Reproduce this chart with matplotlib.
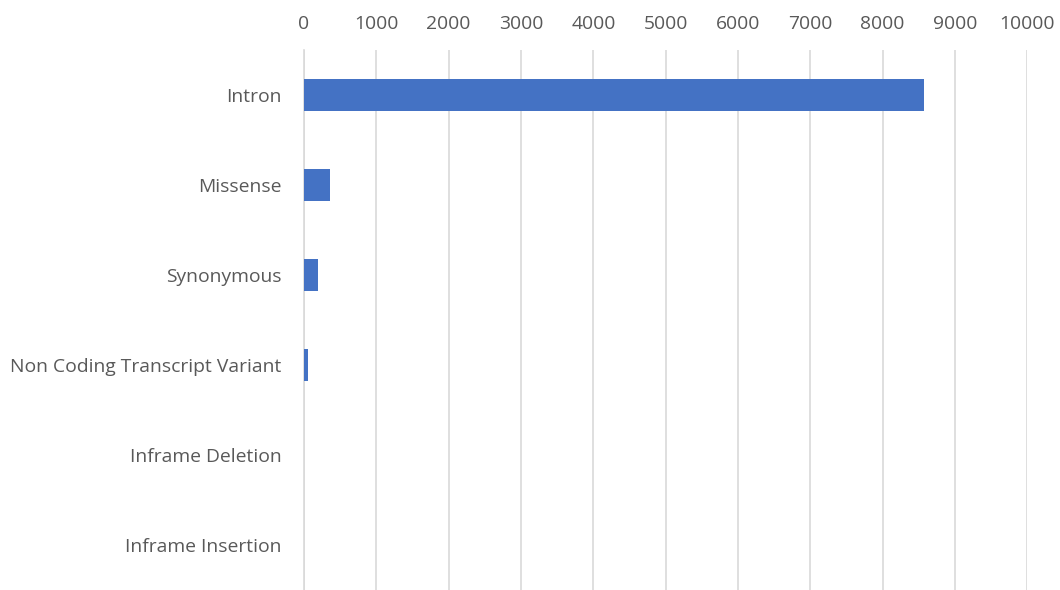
import matplotlib
matplotlib.use("Agg")
import matplotlib.pyplot as plt

categories = ["Intron", "Missense", "Synonymous", "Non Coding Transcript Variant",
              "Inframe Deletion", "Inframe Insertion"]
counts = [8565, 355, 190, 55, 2, 1]
xticks = list(range(0, 10001, 1000))

plt.rcParams['font.family'] = ['Open Sans', 'DejaVu Sans']

fig = plt.figure(figsize=(10.6, 5.9), dpi=100)
ax = fig.add_axes([304 / 1060, 0, (1027.3 - 304) / 1060, 1 - 50 / 590])

ypos = list(range(len(categories)))
ax.barh(ypos, counts, height=0.36, color="#4472C4", zorder=3)
ax.set_ylim(len(categories) - 0.5, -0.5)
ax.set_xlim(0, 10000)
ax.set_xticks(xticks)
ax.set_yticks(ypos)
ax.set_yticklabels(categories)
ax.xaxis.tick_top()
ax.grid(axis="x", color="#D9D9D9", linewidth=1.2, zorder=0)
for s in ["top", "right", "bottom"]:
    ax.spines[s].set_visible(False)
ax.spines["left"].set_color("#D9D9D9")
ax.spines["left"].set_linewidth(1.2)
ax.tick_params(axis="both", length=0, labelsize=13.9, colors="#595959")
ax.tick_params(axis="y", pad=16)
ax.tick_params(axis="x", pad=12)

fig.savefig("out.png", dpi=100)
